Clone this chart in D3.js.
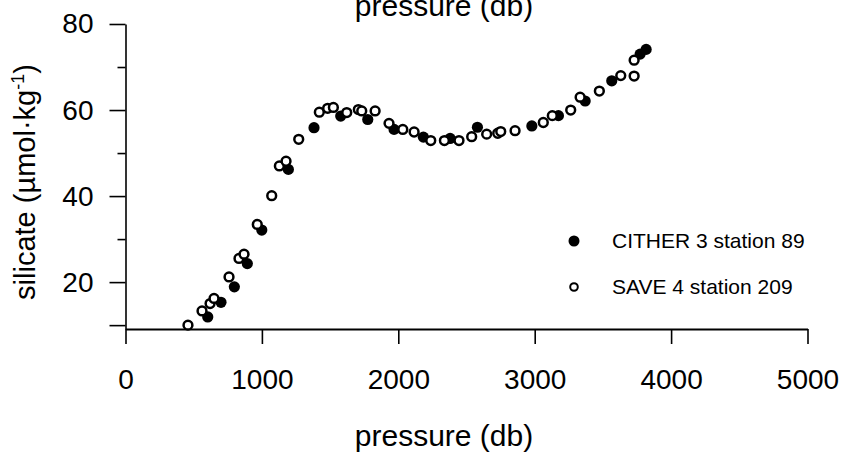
<!DOCTYPE html>
<html>
<head>
<meta charset="utf-8">
<script src="https://cdn.jsdelivr.net/npm/d3@7/dist/d3.min.js"></script>
<style>
  html, body { margin: 0; padding: 0; background: #fff; }
  svg { display: block; font-family: "Liberation Sans", Arial, Helvetica, sans-serif; }
</style>
</head>
<body>
<svg id="chart" width="842" height="455"></svg>
<script>
// ---- data ----
const citherPressure = [603, 700, 798, 893, 999, 1194, 1382, 1578, 1776, 1969, 2184, 2380, 2580, 2979, 3174, 3370, 3565, 3773, 3817];
const citherSilicate = [11.9, 15.3, 18.9, 24.3, 32.1, 46.2, 55.9, 58.6, 57.8, 55.5, 53.7, 53.4, 56.0, 56.3, 58.7, 62.1, 66.8, 73.0, 74.1];

const savePressure = [458, 561, 620, 649, 759, 832, 869, 966, 1072, 1128, 1177, 1270, 1421, 1482, 1524, 1622, 1707, 1732, 1830, 1932, 2033, 2116, 2238, 2338, 2445, 2538, 2648, 2729, 2751, 2856, 3063, 3129, 3264, 3333, 3474, 3631, 3729, 3729];
const saveSilicate = [10.0, 13.3, 15.0, 16.2, 21.2, 25.5, 26.5, 33.4, 40.1, 47.0, 48.1, 53.2, 59.5, 60.4, 60.6, 59.4, 60.1, 59.8, 59.8, 56.9, 55.5, 54.9, 52.9, 52.9, 52.9, 53.8, 54.4, 54.6, 55.0, 55.2, 57.1, 58.7, 60.0, 63.0, 64.4, 68.0, 67.9, 71.6];

const xTickValues = [0, 1000, 2000, 3000, 4000, 5000];
const yTickValues = [10, 20, 30, 40, 50, 60, 70, 80];
const yTickLabels = [20, 40, 60, 80];
const seriesNames = ["CITHER 3 station 89", "SAVE 4 station 209"];
const axisTitle = "pressure (db)";

// ---- chart ----
const svg = d3.select("#chart");
const x = d3.scaleLinear().domain([0, 5000]).range([125.5, 807.5]);
const y = d3.scaleLinear().domain([9.1, 80]).range([329, 24]);

// x axis
const xAxis = svg.append("g")
  .attr("transform", `translate(0,${y(9.1)})`)
  .call(d3.axisBottom(x).tickValues(xTickValues).tickSize(15).tickSizeOuter(0).tickPadding(25).tickFormat(d3.format("d")));
xAxis.select(".domain").attr("stroke", "#000").attr("stroke-width", 2.2);
xAxis.selectAll(".tick line").attr("stroke", "#000").attr("stroke-width", 1.6);
xAxis.selectAll(".tick text").attr("font-size", 28).attr("fill", "#000")
  .attr("font-family", "'Liberation Sans', Arial, sans-serif");

// y axis
const yAxis = svg.append("g")
  .attr("transform", `translate(${x(0)},0)`)
  .call(d3.axisLeft(y).tickValues(yTickValues).tickSizeOuter(0).tickPadding(18)
    .tickFormat(d => yTickLabels.includes(d) ? d : ""));
yAxis.select(".domain").attr("stroke", "#000").attr("stroke-width", 1.6);
yAxis.selectAll(".tick line")
  .attr("x2", d => (d % 20 === 0 || d === 10) ? -16 : -8)
  .attr("stroke", "#000").attr("stroke-width", 1.6);
yAxis.selectAll(".tick text").attr("x", -32).attr("font-size", 28).attr("fill", "#000")
  .attr("font-family", "'Liberation Sans', Arial, sans-serif");

// titles
svg.append("text").attr("x", 444).attr("y", 16).attr("text-anchor", "middle")
  .attr("font-size", 30).text(axisTitle);
svg.append("text").attr("x", 444).attr("y", 446).attr("text-anchor", "middle")
  .attr("font-size", 30).text(axisTitle);

const yl = svg.append("text")
  .attr("transform", "translate(35,182) rotate(-90)")
  .attr("text-anchor", "middle").attr("font-size", 29);
yl.append("tspan").text("silicate (µmol·kg");
yl.append("tspan").attr("font-size", 18).attr("dy", -11).text("-1");
yl.append("tspan").attr("dy", 11).text(")");

// points
svg.append("g").selectAll("circle")
  .data(citherPressure.map((p, i) => [p, citherSilicate[i]]))
  .join("circle")
  .attr("cx", d => x(d[0])).attr("cy", d => y(d[1])).attr("r", 5.6)
  .attr("fill", "#000");

svg.append("g").selectAll("circle")
  .data(savePressure.map((p, i) => [p, saveSilicate[i]]))
  .join("circle")
  .attr("cx", d => x(d[0])).attr("cy", d => y(d[1])).attr("r", 4.4)
  .attr("fill", "#fff").attr("stroke", "#000").attr("stroke-width", 2.5);

// legend
const lg = svg.append("g");
lg.append("circle").attr("cx", 574).attr("cy", 241).attr("r", 5.5).attr("fill", "#000");
lg.append("text").attr("x", 612).attr("y", 248).attr("font-size", 21).text(seriesNames[0]);
lg.append("circle").attr("cx", 574).attr("cy", 287).attr("r", 3.8)
  .attr("fill", "#fff").attr("stroke", "#000").attr("stroke-width", 2);
lg.append("text").attr("x", 612).attr("y", 294).attr("font-size", 21).text(seriesNames[1]);
</script>
</body>
</html>
